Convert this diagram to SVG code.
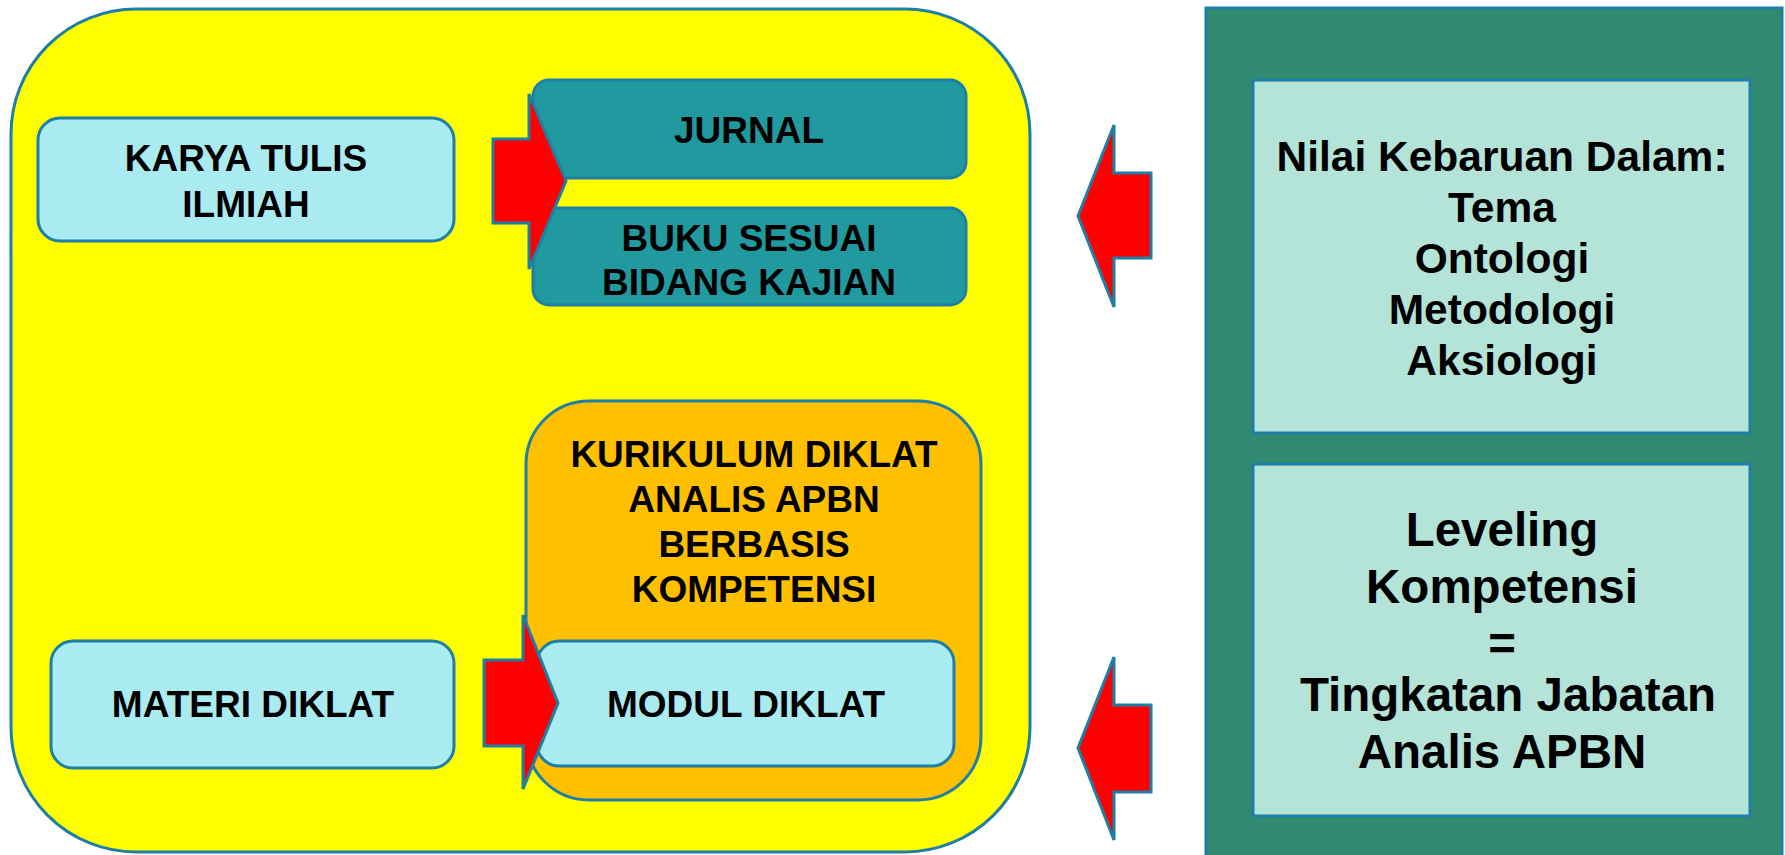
<svg xmlns="http://www.w3.org/2000/svg" width="1785" height="855" viewBox="0 0 1785 855">
<style>
.t{font-family:"Liberation Sans",Arial,sans-serif;font-weight:bold;fill:#000;text-anchor:middle}
.l{font-size:37px}
.r1{font-size:42.5px}
.r2{font-size:47.5px}
.edge{stroke:#1E7FA6;stroke-width:3}
.arrow{fill:#FF0000;stroke:#1E7FA6;stroke-width:3;stroke-linejoin:miter}
</style>
<rect width="1785" height="855" fill="#FFFFFF"/>
<g id="container-left">
<rect class="edge" x="11" y="9" width="1019" height="843" rx="125" fill="#FFFF00"/>
</g>
<g id="karya-tulis">
<rect class="edge" x="38" y="118" width="416" height="123" rx="22" fill="#A9EBF0"/>
<text class="t l" x="246" y="171">KARYA TULIS</text>
<text class="t l" x="246" y="217">ILMIAH</text>
</g>
<g id="jurnal">
<rect class="edge" x="533" y="80" width="433" height="98" rx="16" fill="#209A9F"/>
<text class="t l" x="749" y="143">JURNAL</text>
</g>
<g id="buku">
<rect class="edge" x="533" y="208" width="433" height="97" rx="16" fill="#209A9F"/>
<text class="t l" x="749" y="251">BUKU SESUAI</text>
<text class="t l" x="749" y="295">BIDANG KAJIAN</text>
</g>
<g id="kurikulum">
<rect class="edge" x="526" y="401" width="455" height="399" rx="63" fill="#FFC000"/>
<text class="t l" x="754" y="467">KURIKULUM DIKLAT</text>
<text class="t l" x="754" y="512">ANALIS APBN</text>
<text class="t l" x="754" y="557">BERBASIS</text>
<text class="t l" x="754" y="602">KOMPETENSI</text>
</g>
<g id="modul">
<rect class="edge" x="537" y="641" width="417" height="125" rx="22" fill="#A9EBF0"/>
<text class="t l" x="746" y="717">MODUL DIKLAT</text>
</g>
<g id="materi">
<rect class="edge" x="51" y="641" width="403" height="127" rx="22" fill="#A9EBF0"/>
<text class="t l" x="253" y="717">MATERI DIKLAT</text>
</g>
<g id="panel-right">
<rect class="edge" x="1206" y="8" width="576" height="850" fill="#318A70"/>
</g>
<g id="nilai">
<rect class="edge" x="1253" y="80" width="497" height="353" fill="#B4E3D7"/>
<text class="t r1" x="1502" y="171">Nilai Kebaruan Dalam:</text>
<text class="t r1" x="1502" y="222">Tema</text>
<text class="t r1" x="1502" y="273">Ontologi</text>
<text class="t r1" x="1502" y="324">Metodologi</text>
<text class="t r1" x="1502" y="375">Aksiologi</text>
</g>
<g id="leveling">
<rect class="edge" x="1253" y="464" width="497" height="352" fill="#B4E3D7"/>
<text class="t r2" x="1502" y="546">Leveling</text>
<text class="t r2" x="1502" y="603">Kompetensi</text>
<text class="t r2" x="1502" y="660">=</text>
<text class="t r2" x="1508" y="711">Tingkatan Jabatan</text>
<text class="t r2" x="1502" y="768">Analis APBN</text>
</g>
<g id="connectors">
<polygon class="arrow" points="493,139 529,139 529,94 566,181 529,269 529,223 493,223"/>
<polygon class="arrow" points="484,660 523,660 523,615 558,703 523,789 523,746 484,746"/>
<polygon class="arrow" points="1151,173 1114,173 1114,125 1078,216 1114,307 1114,258 1151,258"/>
<polygon class="arrow" points="1151,705 1114,705 1114,657 1078,748 1114,840 1114,792 1151,792"/>
</g>
</svg>
